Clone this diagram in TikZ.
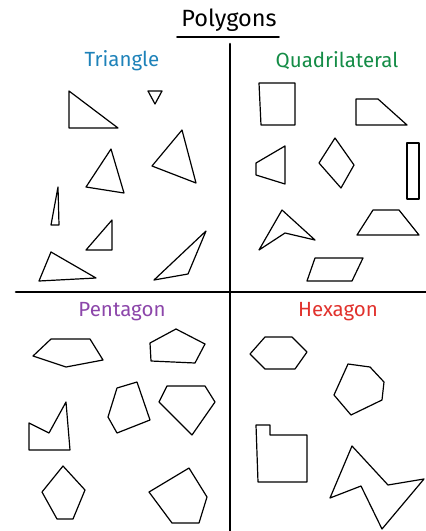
\documentclass[tikz,border=0pt]{standalone}
\usepackage{fontspec}
\setmainfont{Fira Sans}
\definecolor{triblue}{RGB}{30,130,185}
\definecolor{quadgreen}{RGB}{20,140,70}
\definecolor{pentpurple}{RGB}{140,70,170}
\definecolor{hexred}{RGB}{225,50,45}
\tikzset{
  poly/.style={draw=black,line width=1.2pt,line join=round},
  axis/.style={draw=black,line width=2.6pt,line cap=round},
  titletext/.style={font=\fontsize{23.5}{26}\selectfont,text=black,inner sep=0pt},
  heading/.style={font=\fontsize{20.5}{23}\selectfont,inner sep=0pt}
}
\begin{document}
\begin{tikzpicture}[x=1pt,y=-1pt]
\useasboundingbox (0,0) rectangle (426,531);
% title
\node[titletext] (title) at (229,20) {Polygons};
\coordinate (ul) at (177,37);
\coordinate (ur) at (279,37);
\draw[line width=1.6pt,line cap=round] (ul) -- (ur);
% axes
\coordinate (vtop) at (230,44);
\coordinate (vbot) at (230,531);
\coordinate (hl) at (16,292);
\coordinate (hr) at (426,292);
\draw[axis] (vtop) -- (vbot);
\draw[axis] (hl) -- (hr);
% headings
\node[heading,text=triblue] (tri) at (122,61) {Triangle};
\node[heading,text=quadgreen] (quad) at (337,61) {Quadrilateral};
\node[heading,text=pentpurple] (pent) at (122,312) {Pentagon};
\node[heading,text=hexred] (hex) at (338,312) {Hexagon};
% triangles
\draw[poly] (69,91) -- (69,128) -- (118,128) -- cycle;
\draw[poly] (148,91) -- (162,91) -- (155,104) -- cycle;
\draw[poly] (111,149) -- (86,187) -- (124,193) -- cycle;
\draw[poly] (182,130) -- (152,166) -- (196,183) -- cycle;
\draw[poly] (58,187) -- (51,225) -- (59,225) -- cycle;
\draw[poly] (112,220) -- (86,250) -- (112,250) -- cycle;
\draw[poly] (51,252) -- (39,281) -- (96,278) -- cycle;
\draw[poly] (206,231) -- (154,280) -- (188,274) -- cycle;
% quadrilaterals
\draw[poly] (259,83) -- (295,83) -- (295,125) -- (261,125) -- cycle;
\draw[poly] (356,99) -- (378,99) -- (407,125) -- (356,125) -- cycle;
\draw[poly] (256,163) -- (285,146) -- (285,184) -- (256,175) -- cycle;
\draw[poly] (335,138) -- (354,165) -- (341,188) -- (319,163) -- cycle;
\draw[poly] (407,143) -- (419,143) -- (419,199) -- (407,199) -- cycle;
\draw[poly] (282,210) -- (315,240) -- (285,233) -- (259,250) -- cycle;
\draw[poly] (373,210) -- (399,210) -- (419,235) -- (357,235) -- cycle;
\draw[poly] (315,258) -- (363,258) -- (352,281) -- (307,281) -- cycle;
% pentagons
\draw[poly] (51,339) -- (90,339) -- (103,360) -- (66,367) -- (33,356) -- cycle;
\draw[poly] (176,329) -- (205,344) -- (195,363) -- (151,361) -- (150,343) -- cycle;
\draw[poly] (117,388) -- (137,382) -- (150,420) -- (117,433) -- (108,417) -- cycle;
\draw[poly] (167,386) -- (205,386) -- (215,402) -- (192,435) -- (159,402) -- cycle;
\draw[poly] (29,423) -- (49,433) -- (66,402) -- (70,450) -- (29,450) -- cycle;
\draw[poly] (63,466) -- (85,490) -- (73,519) -- (57,519) -- (42,492) -- cycle;
\draw[poly] (189,468) -- (207,497) -- (199,523) -- (172,523) -- (149,492) -- cycle;
% hexagons
\draw[poly] (265,337) -- (292,337) -- (307,352) -- (295,369) -- (265,369) -- (250,354) -- cycle;
\draw[poly] (348,364) -- (370,367) -- (384,382) -- (382,400) -- (351,415) -- (334,395) -- cycle;
\draw[poly] (256,425) -- (270,425) -- (270,435) -- (307,435) -- (307,482) -- (258,482) -- cycle;
\draw[poly] (352,446) -- (388,485) -- (424,479) -- (382,529) -- (361,486) -- (330,498) -- cycle;
\end{tikzpicture}
\end{document}
